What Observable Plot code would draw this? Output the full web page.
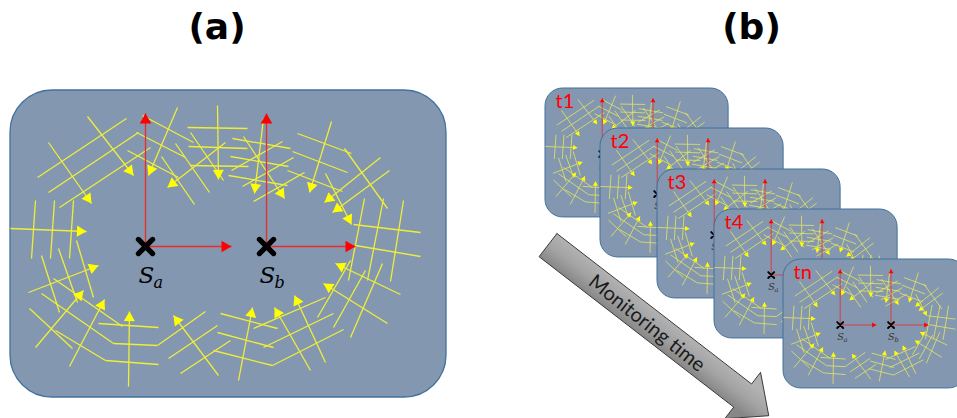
<!DOCTYPE html>
<html><head><meta charset="utf-8">
<script src="https://cdn.jsdelivr.net/npm/d3@7"></script>
<script src="https://cdn.jsdelivr.net/npm/@observablehq/plot@0.6"></script>
<style>html,body{margin:0;padding:0;background:#fff;overflow:hidden;}</style>
</head><body><div id="chart"></div>
<script>
// ---------------- data ----------------
const titleLabels = ["(a)", "(b)"];
const frameLabels = ["t1", "t2", "t3", "t4", "tn"];
const sourceSubs = ["a", "b"];
const sourceX = [145, 266];
const sourceY = [246, 246];
// red axis arrows: [x1, y1, x2, y2]
const redArrows = [
  [145, 246, 145, 113], [145, 246, 231, 246],
  [266, 246, 266, 113], [266, 246, 355, 246]
];
// yellow wavefront segments in panel (a): [x1, y1, x2, y2, arrowhead at end]
const wavefronts = [
  [37,177,126,118,0],[48,192,138,132,0],[59,207,150,147,0],
  [87,116,133,175,1],[48,142,91,203,1],[177,107,148,175,1],
  [142,115,193,142,0],[136,132,185,157,0],[127,150,178,177,0],
  [175,143,209,192,0],[161,156,194,204,0],[225,142,167,187,1],
  [217,105,218,179,1],[187,127,247,128,0],[188,146,247,148,0],
  [190,165,248,166,0],[190,132,223,180,0],
  [35,200,31,258,0],[54,200,50,258,0],[73,200,69,258,0],[10,228,86,231,1],
  [232,138,290,148,0],[230,156,288,166,0],[228,175,287,185,0],
  [263,118,254,193,1],[243,136,284,198,1],[282,141,231,170,0],
  [293,157,242,186,0],[304,172,253,201,0],[297,133,351,153,0],
  [292,151,347,172,0],[287,170,342,191,0],[331,121,309,192,1],
  [344,148,387,208,0],[380,157,324,202,1],[389,170,332,212,1],[325,173,351,224,1],
  [364,198,348,280,0],[383,198,367,280,0],[403,200,390,281,0],
  [353,224,420,232,0],[355,245,420,256,0],
  [400,294,335,263,1],[387,323,323,283,1],[325,362,294,295,1],
  [310,370,274,307,1],[238,380,252,307,1],
  [317,317,350,260,0],[333,327,365,270,0],[350,337,382,263,0],
  [253,328,325,297,0],[263,347,333,313,0],[272,365,343,329,0],
  [220,313,277,328,0],[217,332,273,347,0],[213,350,272,365,0],
  [28,292,98,265,1],[41,255,59,312,0],[58,248,77,302,0],[76,240,93,297,0],
  [35,347,83,290,1],[69,366,104,299,1],[29,308,72,348,0],
  [41,293,113,343,0],[113,343,157,345,0],
  [53,278,122,326,0],[98,323,158,327,0],
  [55,330,105,360,0],[105,360,158,364,0],
  [128,386,129,311,1],[218,375,173,315,1],
  [157,345,205,311,0],[168,358,217,325,0],[180,373,230,340,0]
];
const arrowCaption = "Monitoring time";

// ---------------- layout ----------------
const W = 957, H = 418;
const FRAME = {x: 10, y: 90, w: 436, h: 307, r: 42};
const miniScale = 0.42;
const miniOrigins = [[545, 88], [600, 128], [657, 169], [714, 209], [783, 259]];
const titleX = [216.5, 751], titleBaseline = 38;
const timeArrow = {x: 547.5, y: 244.6, angle: 37.7, shaft: 246, half: 14.6, headHalf: 29.3, head: 33};

const BG = "#8497B0", EDGE = "#41719C";

function head(x1, y1, x2, y2, r) {
  const dx = x2 - x1, dy = y2 - y1, L = Math.hypot(dx, dy);
  const ux = dx / L, uy = dy / L, t = 1.555 * r;
  return {x: x2 - ux * t, y: y2 - uy * t, rot: Math.atan2(dx, -dy) * 180 / Math.PI};
}

function panelMarks(ox, oy, s, tag) {
  const tx = x => ox + (x - FRAME.x) * s, ty = y => oy + (y - FRAME.y) * s;
  const big = s === 1;
  const frame = [{x1: ox, y1: oy, x2: ox + FRAME.w * s, y2: oy + FRAME.h * s}];
  const segs = wavefronts.map(([a, b, c, d, h]) => ({x1: tx(a), y1: ty(b), x2: tx(c), y2: ty(d), h}));
  const yr = big ? 4.1 : 1.9;
  const yheads = segs.filter(d => d.h).map(d => head(d.x1, d.y1, d.x2, d.y2, yr));
  const reds = redArrows.map(([a, b, c, d]) => ({x1: tx(a), y1: ty(b), x2: tx(c), y2: ty(d)}));
  const rr = big ? 4.3 : 1.8;
  const rheads = reds.map(d => head(d.x1, d.y1, d.x2, d.y2, rr));
  const srcs = sourceX.map((x, i) => ({x: tx(x), y: ty(sourceY[i]), sub: sourceSubs[i]}));
  const marks = [
    Plot.rect(frame, {x1: "x1", y1: "y1", x2: "x2", y2: "y2", rx: FRAME.r * s, fill: BG, stroke: EDGE, strokeWidth: big ? 1.3 : 1}),
    Plot.link(segs, {x1: "x1", y1: "y1", x2: "x2", y2: "y2", stroke: big ? "#eeee3a" : "#e4e460", strokeWidth: big ? 1.3 : 0.8}),
    Plot.dot(yheads, {x: "x", y: "y", rotate: "rot", symbol: "triangle", r: yr, fill: "#ffff00", stroke: null}),
    Plot.link(reds, {x1: "x1", y1: "y1", x2: "x2", y2: "y2", stroke: "#ec2a2a", strokeWidth: big ? 1.3 : 0.8}),
    Plot.dot(rheads, {x: "x", y: "y", rotate: "rot", symbol: "triangle", r: rr, fill: "#ff0000", stroke: null}),
    Plot.dot(srcs, {x: "x", y: "y", symbol: "times", r: big ? 6.5 : 2.8, stroke: "#000", strokeWidth: big ? 5.2 : 1.9, strokeLinecap: "round"}),
    Plot.text(srcs, {x: d => d.x - 7 * s, y: d => d.y + 36 * s, text: () => "S", textAnchor: "start", lineAnchor: "bottom",
      fontFamily: "DejaVu Serif", fontStyle: "italic", fontSize: 23 * s, fill: big ? "#000" : "#333"}),
    Plot.text(srcs, {x: d => d.x + 8 * s, y: d => d.y + 41 * s, text: "sub", textAnchor: "start", lineAnchor: "bottom",
      fontFamily: "DejaVu Serif", fontStyle: "italic", fontSize: 16 * s, fill: big ? "#000" : "#333"})
  ];
  if (tag) marks.push(Plot.text([tag], {x: ox + 10, y: oy + 19, text: d => d, textAnchor: "start", lineAnchor: "bottom",
    fontFamily: "Lato", fontSize: 20, fill: "#ff0000"}));
  return marks;
}

// gray "monitoring time" arrow outline
const a = timeArrow, rad = a.angle * Math.PI / 180;
const u = [Math.cos(rad), Math.sin(rad)], n = [-Math.sin(rad), Math.cos(rad)];
const P = (t, w) => ({x: a.x + u[0] * t + n[0] * w, y: a.y + u[1] * t + n[1] * w});
const arrowPts = [P(0, -a.half), P(a.shaft, -a.half), P(a.shaft, -a.headHalf), P(a.shaft + a.head, 0),
  P(a.shaft, a.headHalf), P(a.shaft, a.half), P(0, a.half), P(0, -a.half)];
const mid = P(126, 1.5);

const marks = [
  Plot.text(titleLabels, {x: (d, i) => titleX[i], y: titleBaseline, text: d => d, lineAnchor: "bottom",
    fontFamily: "DejaVu Sans", fontWeight: "bold", fontSize: 36, fill: "#000"}),
  ...panelMarks(FRAME.x, FRAME.y, 1, null),
  ...miniOrigins.flatMap(([ox, oy], i) => panelMarks(ox, oy, miniScale, frameLabels[i])),
  Plot.line(arrowPts, {x: "x", y: "y", fill: "url(#mtGrad)", stroke: "#3a3a3a", strokeWidth: 1, curve: "linear"}),
  Plot.text([arrowCaption], {x: mid.x, y: mid.y, text: d => d, rotate: a.angle + 0.8, fontFamily: "Lato", fontSize: 20, fill: "#1a1a1a"})
];

const svg = Plot.plot({
  width: W, height: H, margin: 0,
  x: {domain: [0, W], range: [0, W], axis: null},
  y: {domain: [0, H], range: [0, H], axis: null},
  style: {background: "white", overflow: "hidden"},
  marks
});
const NS = "http://www.w3.org/2000/svg";
const defs = document.createElementNS(NS, "defs");
const g0 = P(0, -a.half), g1 = P(0, a.half);
defs.innerHTML = `<linearGradient id="mtGrad" gradientUnits="userSpaceOnUse" x1="${g0.x}" y1="${g0.y}" x2="${g1.x}" y2="${g1.y}">
<stop offset="0" stop-color="#b2b2b2"/><stop offset="0.5" stop-color="#a3a3a3"/><stop offset="1" stop-color="#878787"/></linearGradient>`;
svg.insertBefore(defs, svg.firstChild);
document.getElementById("chart").appendChild(svg);
</script></body></html>
